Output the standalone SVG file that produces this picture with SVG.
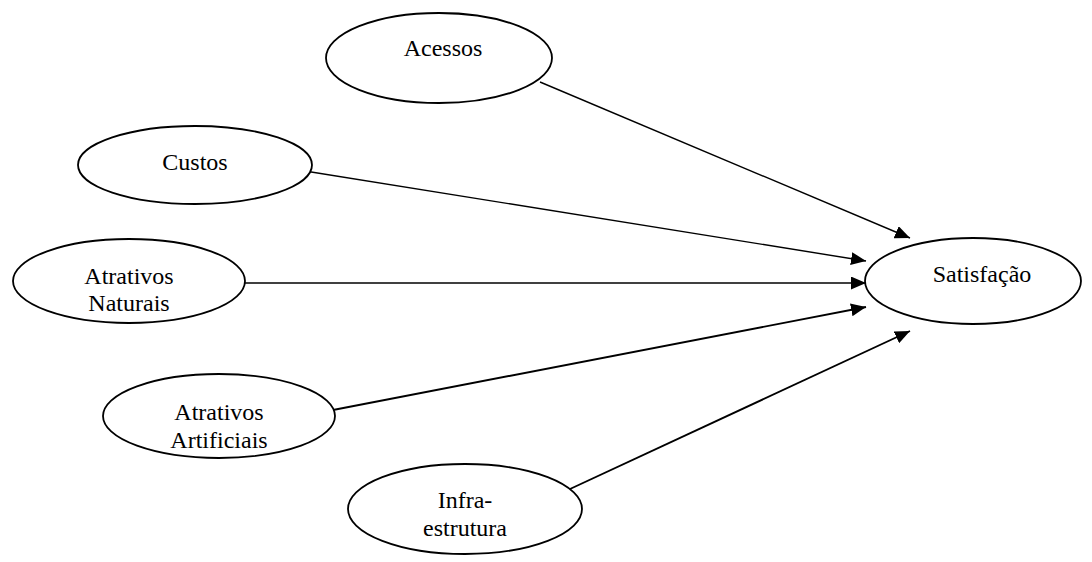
<svg xmlns="http://www.w3.org/2000/svg" width="1092" height="562" viewBox="0 0 1092 562">
<style>
.n ellipse{fill:#fff;stroke:#000;stroke-width:1.8}
.n text{font-family:"Liberation Serif","Times New Roman",serif;font-size:24px;fill:#000;text-anchor:middle}
.c line{stroke:#000;stroke-width:1.4}
.c line.t{stroke-width:1.9}
</style>
<defs>
<marker id="ah" viewBox="0 0 15 13" refX="15" refY="6.5" markerWidth="15" markerHeight="13" markerUnits="userSpaceOnUse" orient="auto">
<path d="M0,0 L15,6.5 L0,13 Z" fill="#000"/>
</marker>
</defs>
<g class="c">
<line x1="540" y1="82" x2="910" y2="238" marker-end="url(#ah)"/>
<line x1="305" y1="171" x2="866" y2="261" marker-end="url(#ah)"/>
<line x1="237" y1="283" x2="866" y2="283" marker-end="url(#ah)"/>
<line class="t" x1="333" y1="410" x2="866" y2="307" marker-end="url(#ah)"/>
<line class="t" x1="570" y1="489" x2="910" y2="331" marker-end="url(#ah)"/>
</g>
<g id="acessos" class="n"><ellipse cx="439" cy="58" rx="113" ry="45"/><text x="443" y="56">Acessos</text></g>
<g id="custos" class="n"><ellipse cx="195" cy="165" rx="117" ry="39"/><text x="195" y="170">Custos</text></g>
<g id="naturais" class="n"><ellipse cx="129" cy="281" rx="116" ry="42"/><text x="129" y="284">Atrativos</text><text x="129" y="311">Naturais</text></g>
<g id="satisfacao" class="n"><ellipse cx="973" cy="281" rx="108" ry="43"/><text x="982" y="282">Satisfação</text></g>
<g id="artificiais" class="n"><ellipse cx="219" cy="416" rx="116" ry="42"/><text x="219" y="420">Atrativos</text><text x="219" y="448">Artificiais</text></g>
<g id="infra" class="n"><ellipse cx="465" cy="509" rx="117" ry="45"/><text x="465" y="508">Infra-</text><text x="465" y="536">estrutura</text></g>
</svg>
